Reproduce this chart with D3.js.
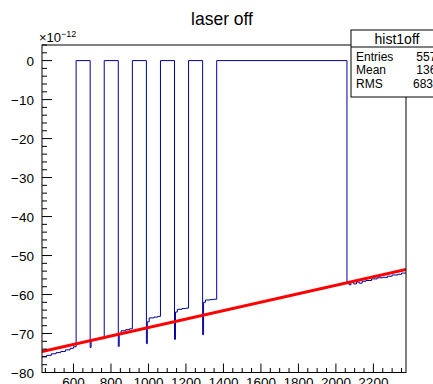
<!DOCTYPE html>
<html>
<head>
<meta charset="utf-8">
<script src="https://cdn.jsdelivr.net/npm/d3@7"></script>
<style>
  html, body { margin: 0; padding: 0; background: #fff; }
  svg { display: block; font-family: "Liberation Sans", Arial, sans-serif; }
</style>
</head>
<body>
<svg id="chart" width="433" height="384"></svg>
<script>
// Histogram "hist1off" (bin left edges and contents, units of 1e-12)
const blueEdges = [432, 457, 482, 507, 532, 557, 582, 600, 614, 689, 694, 714, 739, 764,
    839, 844, 854, 879, 899, 914, 989, 994, 1004, 1029, 1049, 1064,
    1139, 1144, 1154, 1179, 1199, 1214, 1289, 1294, 1304, 1329, 1349, 1364,
    2059, 2070, 2080, 2095, 2110, 2125, 2140, 2160, 2190, 2220, 2250, 2275, 2300, 2330, 2350];
const blueValues = [-75.9, -75.6, -75.2, -74.9, -74.6, -74.2, -73.8, -73.4, 0, -73.6, -71.8, -71.5, -71.3, 0,
    -73.3, -70.2, -69.3, -69.0, -68.8, 0, -72.6, -67.0, -66.0, -65.8, -65.6, 0,
    -71.5, -64.5, -63.8, -63.6, -63.5, 0, -70.3, -62.0, -61.4, -61.3, -61.2, 0,
    -57.0, -57.5, -56.9, -57.3, -56.8, -57.1, -56.6, -56.4, -56.0, -55.7, -55.6, -55.3, -55.0, -54.8, -54.5];

// Linear fit (red)
const fitX = [432, 2374];
const fitY = [-74.6, -53.6];

// Axes
const xDomain = [432, 2374];
const yDomain = [-80, 4];
const xMajorTicks = [600, 800, 1000, 1200, 1400, 1600, 1800, 2000, 2200];
const yMajorTicks = [0, -10, -20, -30, -40, -50, -60, -70, -80];

// Stats box
const statsTitle = "hist1off";
const statsLabels = ["Entries", "Mean", "RMS"];
const statsValues = ["5574", "1360", "683.3"];

const svg = d3.select("#chart");

const frame = { left: 42, right: 406, top: 45, bottom: 372.5 };

const x = d3.scaleLinear().domain(xDomain).range([frame.left, frame.right]);
const y = d3.scaleLinear().domain(yDomain).range([frame.bottom, frame.top]);

// Title
svg.append("text")
    .attr("x", 222)
    .attr("y", 25)
    .attr("text-anchor", "middle")
    .attr("font-size", 17.5)
    .text("laser off");

// Exponent label
const expLabel = svg.append("text")
    .attr("x", 39)
    .attr("y", 42)
    .attr("font-size", 13);
expLabel.append("tspan").text("\u00d710");
expLabel.append("tspan")
    .attr("dy", -5)
    .attr("font-size", 9)
    .text("\u221212");

// Clip for data
svg.append("clipPath").attr("id", "plotClip")
  .append("rect")
    .attr("x", frame.left)
    .attr("y", frame.top)
    .attr("width", frame.right - frame.left)
    .attr("height", frame.bottom - frame.top);

const plot = svg.append("g").attr("clip-path", "url(#plotClip)");

// Histogram as steps
const histPoints = blueEdges.map((e, i) => [e, blueValues[i]]);
histPoints.push([xDomain[1], blueValues[blueValues.length - 1]]);

plot.append("path")
    .attr("d", d3.line()
        .x(d => x(d[0]))
        .y(d => y(d[1]))
        .curve(d3.curveStepAfter)(histPoints))
    .attr("fill", "none")
    .attr("stroke", "#000099")
    .attr("stroke-width", 1);

// Fit line
plot.append("path")
    .attr("d", d3.line()
        .x((d, i) => x(fitX[i]))
        .y(d => y(d))(fitY))
    .attr("fill", "none")
    .attr("stroke", "#ff0000")
    .attr("stroke-width", 3);

// Frame
svg.append("rect")
    .attr("x", frame.left)
    .attr("y", frame.top)
    .attr("width", frame.right - frame.left)
    .attr("height", frame.bottom - frame.top)
    .attr("fill", "none")
    .attr("stroke", "#000")
    .attr("stroke-width", 1);

// Y axis ticks (inside)
const yMinor = d3.range(yDomain[0], yDomain[1] + 0.001, 2);
yMinor.forEach(v => {
    const major = v % 10 === 0;
    svg.append("line")
        .attr("x1", frame.left)
        .attr("x2", frame.left + (major ? 10 : 5))
        .attr("y1", y(v))
        .attr("y2", y(v))
        .attr("stroke", "#000")
        .attr("stroke-width", 1);
});

yMajorTicks.forEach(v => {
    svg.append("text")
        .attr("x", 34)
        .attr("y", y(v) + 5)
        .attr("text-anchor", "end")
        .attr("font-size", 13.5)
        .text(v === 0 ? "0" : "\u2212" + Math.abs(v));
});

// X axis ticks (inside)
const xMinor = d3.range(450, xDomain[1], 50);
xMinor.forEach(v => {
    const major = v % 200 === 0;
    svg.append("line")
        .attr("x1", x(v))
        .attr("x2", x(v))
        .attr("y1", frame.bottom)
        .attr("y2", frame.bottom - (major ? 9 : 4.5))
        .attr("stroke", "#000")
        .attr("stroke-width", 1);
});

xMajorTicks.forEach(v => {
    svg.append("text")
        .attr("x", x(v))
        .attr("y", 387)
        .attr("text-anchor", "middle")
        .attr("font-size", 13.5)
        .text(v);
});

// Stats box
const box = { x: 351, y: 30, w: 100, h: 67, titleH: 17 };
svg.append("rect")
    .attr("x", box.x)
    .attr("y", box.y)
    .attr("width", box.w)
    .attr("height", box.h)
    .attr("fill", "#fff")
    .attr("stroke", "#000")
    .attr("stroke-width", 1);

svg.append("line")
    .attr("x1", box.x)
    .attr("x2", box.x + box.w)
    .attr("y1", box.y + box.titleH)
    .attr("y2", box.y + box.titleH)
    .attr("stroke", "#000");

svg.append("text")
    .attr("x", 397)
    .attr("y", 44)
    .attr("text-anchor", "middle")
    .attr("font-size", 14)
    .text(statsTitle);

statsLabels.forEach((label, i) => {
    svg.append("text")
        .attr("x", 356)
        .attr("y", 61 + i * 13.3)
        .attr("font-size", 12)
        .text(label);
    svg.append("text")
        .attr("x", 443)
        .attr("y", 61 + i * 13.3)
        .attr("text-anchor", "end")
        .attr("font-size", 12)
        .text(statsValues[i]);
});
</script>
</body>
</html>
